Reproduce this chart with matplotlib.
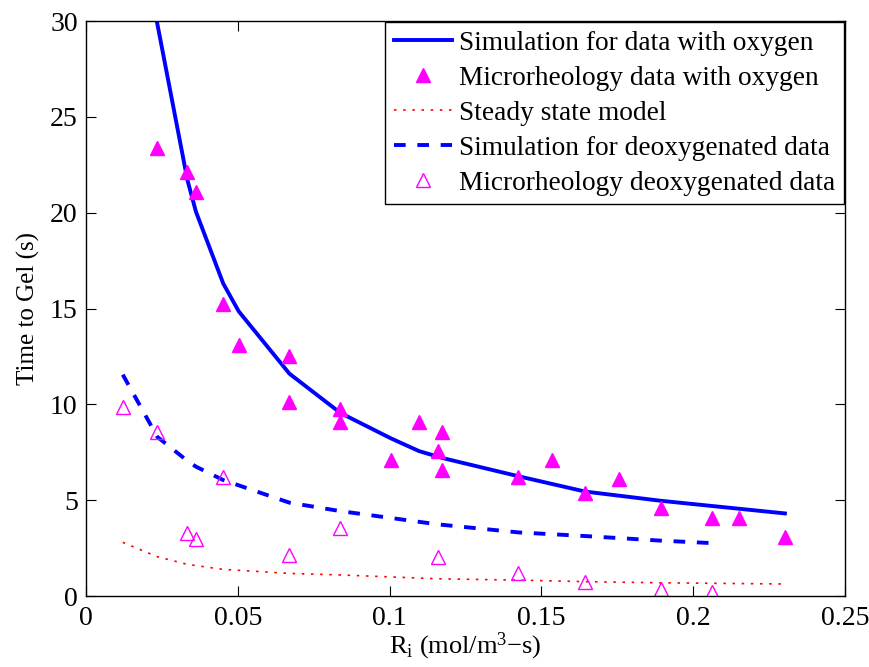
import matplotlib
matplotlib.use("Agg")
import matplotlib.pyplot as plt

plt.rcParams["font.family"] = ["Liberation Serif", "DejaVu Serif"]
plt.rcParams["mathtext.fontset"] = "custom"
plt.rcParams["mathtext.rm"] = "Liberation Serif"
plt.rcParams["mathtext.it"] = "Liberation Serif:italic"

# simulation with oxygen (solid)
sim_ox_x = [0.0233, 0.0334, 0.0362, 0.0452, 0.0503, 0.0670, 0.0838, 0.1005,
            0.1097, 0.1174, 0.1424, 0.1644, 0.1893, 0.2302]
sim_ox_y = [30.0, 21.7, 20.05, 16.3, 14.85, 11.6, 9.55, 8.22,
            7.56, 7.2, 6.25, 5.45, 4.97, 4.31]

# microrheology data with oxygen (filled triangles)
micro_ox_x = [0.0235, 0.0334, 0.0362, 0.0452, 0.0503, 0.0670, 0.0670, 0.0838,
              0.0838, 0.1005, 0.1097, 0.1174, 0.1158, 0.1174, 0.1424, 0.1536,
              0.1644, 0.1757, 0.1893, 0.2063, 0.2152, 0.2302]
micro_ox_y = [23.4, 22.1, 21.1, 15.25, 13.1, 12.5, 10.1, 9.74,
              9.09, 7.09, 9.09, 8.57, 7.58, 6.57, 6.22, 7.09,
              5.39, 6.09, 4.57, 4.09, 4.09, 3.09]

# steady state model (dotted)
steady_x = [0.0121, 0.0235, 0.0334, 0.0452, 0.0670, 0.0838, 0.1158, 0.1424,
            0.1644, 0.1893, 0.2290]
steady_y = [2.8, 2.05, 1.65, 1.39, 1.18, 1.10, 0.90, 0.83,
            0.75, 0.69, 0.63]

# simulation for deoxygenated data (dashed)
sim_deox_x = [0.0121, 0.0235, 0.0334, 0.0362, 0.0452, 0.0670, 0.0838, 0.1158,
              0.1424, 0.1644, 0.1893, 0.2063]
sim_deox_y = [11.55, 8.3, 7.05, 6.75, 6.05, 4.87, 4.43, 3.74,
              3.32, 3.13, 2.89, 2.76]

# microrheology deoxygenated data (open triangles)
micro_deox_x = [0.0121, 0.0235, 0.0334, 0.0362, 0.0452, 0.0670, 0.0838, 0.1158,
                0.1424, 0.1644, 0.1893, 0.2063]
micro_deox_y = [9.88, 8.57, 3.30, 2.96, 6.22, 2.14, 3.56, 2.05,
                1.22, 0.75, 0.37, 0.19]

fig = plt.figure(figsize=(8.7, 6.67), dpi=100)
ax = fig.add_axes([0.0989, 0.1064, 0.8724, 0.8621])

ax.plot(sim_ox_x, sim_ox_y, color="#0000ff", lw=2.8,
        label="Simulation for data with oxygen")
ax.plot(micro_ox_x, micro_ox_y, ls="none", marker="^", ms=10,
        color="#ff00ff", mec="#ff00ff", label="Microrheology data with oxygen")
ax.plot(steady_x, steady_y, color="#ff0000", lw=1.2, ls=(0, (1.5, 4)),
        label="Steady state model")
ax.plot(sim_deox_x, sim_deox_y, color="#0000ff", lw=2.8, ls=(0, (3, 3)),
        label="Simulation for deoxygenated data")
ax.plot(micro_deox_x, micro_deox_y, ls="none", marker="^", ms=10,
        mfc="none", mec="#ff00ff", mew=1.0,
        label="Microrheology deoxygenated data")

ax.set_xlim(0, 0.25)
ax.set_ylim(0, 30)
ax.set_xticks([0, 0.05, 0.1, 0.15, 0.2, 0.25])
ax.set_xticklabels(["0", "0.05", "0.1", "0.15", "0.2", "0.25"])
ax.set_yticks([0, 5, 10, 15, 20, 25, 30])
ax.tick_params(direction="in", top=True, right=True, length=7, width=0.8,
               labelsize=20, pad=6)
ax.tick_params(axis="x", pad=7)
for sp in ax.spines.values():
    sp.set_linewidth(1.0)

ax.set_xlabel(r"R$_\mathrm{i}$ (mol/m$^3$$-$s)", fontsize=19, labelpad=0)
ax.set_ylabel("Time to Gel (s)", fontsize=18, labelpad=7)

leg = ax.legend(loc="upper right", fontsize=19.7, frameon=True, fancybox=False,
                edgecolor="black", framealpha=1, handlelength=2.15,
                borderaxespad=0.05, labelspacing=0.36, borderpad=0.3,
                handletextpad=0.25)
leg.get_frame().set_linewidth(1.0)

fig.savefig("out.png", dpi=100)
